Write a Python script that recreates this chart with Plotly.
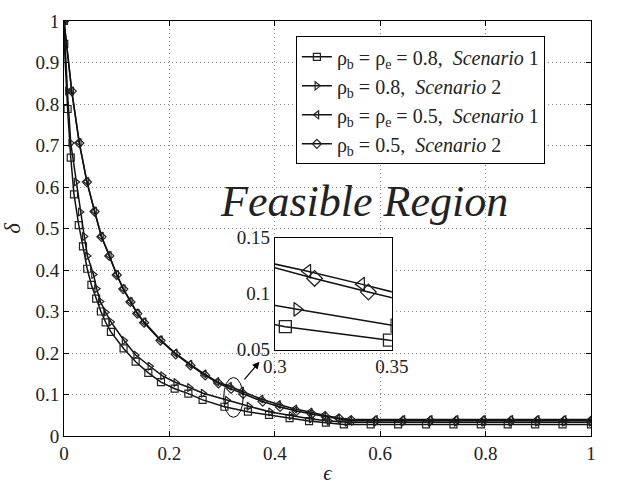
import plotly.graph_objects as go

# ---------------- data ----------------
x_sq = [0, 0.0005, 0.0068, 0.0128, 0.019, 0.028, 0.036, 0.044, 0.052, 0.061,
        0.070, 0.079, 0.089, 0.113, 0.136, 0.160, 0.184, 0.210, 0.236, 0.263,
        0.3045, 0.349, 0.389, 0.428, 0.465, 0.497, 0.531,
        0.582, 0.634, 0.687, 0.739, 0.791, 0.842, 0.894, 0.946, 1.0]
y_sq = [1, 0.945, 0.788, 0.671, 0.582, 0.508, 0.457, 0.403, 0.364, 0.331,
        0.300, 0.274, 0.251, 0.211, 0.179, 0.152, 0.130, 0.114, 0.102, 0.087,
        0.0705, 0.0585, 0.051, 0.043, 0.036, 0.032, 0.028,
        0.028, 0.028, 0.028, 0.028, 0.028, 0.028, 0.028, 0.028, 0.028]

x_tr = [0, 0.0065, 0.0128, 0.023, 0.031, 0.0385, 0.0445, 0.056, 0.062, 0.069,
        0.079, 0.089, 0.114, 0.136, 0.163, 0.187, 0.212, 0.238, 0.264, 0.3095,
        0.351, 0.392, 0.431, 0.469, 0.503, 0.537,
        0.591, 0.643, 0.695, 0.744, 0.796, 0.848, 0.898, 0.949, 1.0]
y_tr = [1, 0.831, 0.706, 0.612, 0.540, 0.481, 0.434, 0.389, 0.355, 0.324,
        0.298, 0.275, 0.230, 0.195, 0.168, 0.145, 0.129, 0.117, 0.103, 0.086,
        0.0715, 0.058, 0.049, 0.041, 0.036, 0.033,
        0.033, 0.033, 0.033, 0.033, 0.033, 0.033, 0.033, 0.033, 0.033]

x_tl = [0, 0.0147, 0.029, 0.0435, 0.058, 0.071, 0.086, 0.100, 0.1125, 0.126,
        0.139, 0.152, 0.183, 0.211, 0.239, 0.266, 0.290, 0.314, 0.337, 0.374,
        0.407, 0.438, 0.467, 0.493, 0.519, 0.542,
        0.591, 0.643, 0.695, 0.744, 0.796, 0.848, 0.898, 0.949, 1.0]
y_tl = [1, 0.831, 0.707, 0.613, 0.542, 0.481, 0.435, 0.389, 0.355, 0.324,
        0.296, 0.275, 0.232, 0.200, 0.173, 0.150, 0.131, 0.120, 0.1085, 0.089,
        0.076, 0.065, 0.058, 0.050, 0.044, 0.040,
        0.040, 0.040, 0.040, 0.040, 0.040, 0.040, 0.040, 0.040, 0.040]

x_di = [0, 0.0147, 0.029, 0.0435, 0.058, 0.071, 0.086, 0.100, 0.1125, 0.126,
        0.139, 0.152, 0.183, 0.212, 0.240, 0.268, 0.293, 0.317, 0.340, 0.377,
        0.410, 0.441, 0.470, 0.497, 0.523, 0.546,
        0.591, 0.643, 0.695, 0.744, 0.796, 0.848, 0.898, 0.949, 1.0]
y_di = [1, 0.831, 0.706, 0.612, 0.541, 0.480, 0.434, 0.388, 0.354, 0.323,
        0.295, 0.273, 0.230, 0.197, 0.170, 0.146, 0.127, 0.1136, 0.1014, 0.083,
        0.070, 0.060, 0.053, 0.046, 0.041, 0.037,
        0.037, 0.037, 0.037, 0.037, 0.037, 0.037, 0.037, 0.037, 0.037]

series_names = [
    "ρ<sub>b</sub> = ρ<sub>e</sub> = 0.8,  <i>Scenario</i> 1",
    "ρ<sub>b</sub> = 0.8,  <i>Scenario</i> 2",
    "ρ<sub>b</sub> = ρ<sub>e</sub> = 0.5,  <i>Scenario</i> 1",
    "ρ<sub>b</sub> = 0.5,  <i>Scenario</i> 2",
]
series_symbols = ["square-open", "triangle-right-open", "triangle-left-open", "diamond-open"]
series_x = [x_sq, x_tr, x_tl, x_di]
series_y = [y_sq, y_tr, y_tl, y_di]

x_ticks = [0, 0.2, 0.4, 0.6, 0.8, 1]
x_ticktext = ["0", "0.2", "0.4", "0.6", "0.8", "1"]
y_ticks = [0, 0.1, 0.2, 0.3, 0.4, 0.5, 0.6, 0.7, 0.8, 0.9, 1]
y_ticktext = ["0", "0.1", "0.2", "0.3", "0.4", "0.5", "0.6", "0.7", "0.8", "0.9", "1"]
inset_x_ticks = [0.3, 0.35]
inset_x_ticktext = ["0.3", "0.35"]
inset_y_ticks = [0.05, 0.1, 0.15]
inset_y_ticktext = ["0.05", "0.1", "0.15"]

# ---------------- figure ----------------
SERIF = "Times New Roman"
TXT = "#222"
fig = go.Figure()

for i, (xs, ys, nm, sym) in enumerate(zip(series_x, series_y, series_names, series_symbols)):
    fig.add_trace(go.Scatter(
        x=xs, y=ys, mode="lines+markers", name=nm, legendgroup=f"g{i}",
        line=dict(color="#111", width=1.5),
        marker=dict(symbol=sym, size=7, color="#222", line=dict(width=1.2, color="#222")),
    ))
    fig.add_trace(go.Scatter(
        x=xs, y=ys, mode="lines+markers", showlegend=False, legendgroup=f"g{i}",
        line=dict(color="#111", width=1.5),
        marker=dict(symbol=sym, size=12, color="#222", line=dict(width=1.3, color="#222")),
        xaxis="x2", yaxis="y2",
    ))

tf = dict(family=SERIF, size=19, color=TXT)

fig.update_layout(
    width=619, height=491,
    margin=dict(l=63, r=11, t=11, b=43),
    paper_bgcolor="white", plot_bgcolor="white",
    font=dict(family=SERIF, size=19, color=TXT),
    xaxis=dict(showline=True, linecolor="black", linewidth=1, zeroline=False,
               domain=[0, 1], range=[0, 1], mirror="ticks",
               ticks="inside", ticklen=5, tickcolor="black",
               tickvals=x_ticks, ticktext=x_ticktext, tickfont=tf,
               showgrid=True, gridcolor="#888", griddash="1px,3px", gridwidth=1,
               title=dict(text="<i>ϵ</i>", font=dict(family=SERIF, size=21, color=TXT), standoff=2)),
    yaxis=dict(showline=True, linecolor="black", linewidth=1, zeroline=False,
               domain=[0, 1], range=[0, 1], mirror="ticks",
               ticks="inside", ticklen=5, tickcolor="black",
               tickvals=y_ticks, ticktext=y_ticktext, tickfont=tf,
               showgrid=True, gridcolor="#888", griddash="1px,3px", gridwidth=1,
               title=dict(text="<i>δ</i>", font=dict(family=SERIF, size=23, color=TXT), standoff=8)),
    xaxis2=dict(showline=True, linecolor="black", linewidth=1, zeroline=False,
                anchor="y2", domain=[0.4, 0.622], range=[0.3, 0.35],
                mirror=True, ticks="", showgrid=False, tickfont=tf,
                tickvals=inset_x_ticks, ticktext=inset_x_ticktext),
    yaxis2=dict(showline=True, linecolor="black", linewidth=1, zeroline=False,
                anchor="x2", domain=[0.208, 0.478], range=[0.05, 0.15],
                mirror=True, ticks="", showgrid=False, tickfont=tf,
                tickvals=inset_y_ticks, ticktext=inset_y_ticktext),
    legend=dict(x=0.44, y=0.963, xanchor="left", yanchor="top",
                bgcolor="white", bordercolor="black", borderwidth=1,
                font=dict(family=SERIF, size=20, color=TXT),
                tracegroupgap=0),
    showlegend=True,
)

fig.add_annotation(x=0.57, y=0.565, xref="x", yref="y", text="<i>Feasible Region</i>",
                   showarrow=False, font=dict(family=SERIF, size=44, color=TXT))

fig.add_shape(type="circle", xref="x", yref="y", x0=0.303, x1=0.340, y0=0.045, y1=0.141,
              line=dict(color="black", width=1))
fig.add_annotation(x=0.371, y=0.179, ax=0.340, ay=0.133, xref="x", yref="y",
                   axref="x", ayref="y", text="", showarrow=True,
                   arrowhead=2, arrowsize=1.2, arrowwidth=1.2, arrowcolor="black")

post = (
    "document.documentElement.style.overflow='hidden';"
    "document.body.style.margin='0';document.body.style.overflow='hidden';"
    "var gd=document.getElementById('{plot_id}');"
    "function rd(){Plotly.relayout(gd,{width:619,height:491});}"
    "rd();"
    "if(document.fonts&&document.fonts.ready){document.fonts.ready.then(rd);}"
)

fig.write_html("out.html", include_plotlyjs=True,
               config={"responsive": False, "displayModeBar": False},
               post_script=post)
